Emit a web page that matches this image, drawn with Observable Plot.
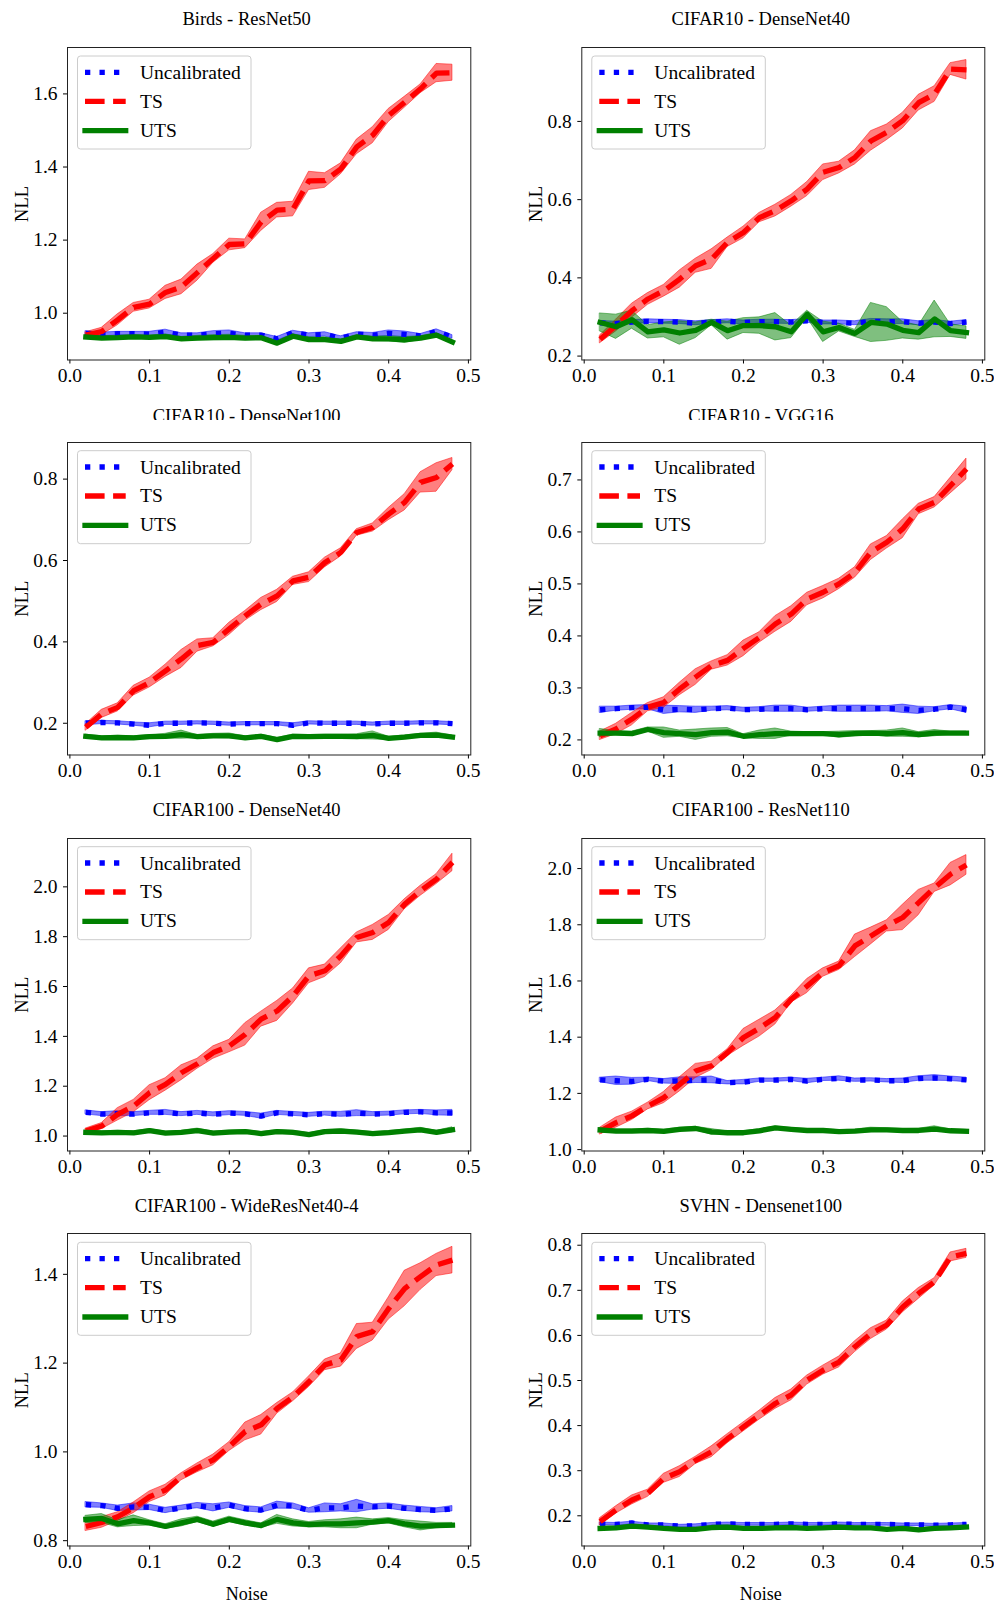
<!DOCTYPE html>
<html><head><meta charset="utf-8">
<script src="https://cdn.jsdelivr.net/npm/d3@7"></script>
<script src="https://cdn.jsdelivr.net/npm/@observablehq/plot@0.6"></script>
<style>
html,body{margin:0;padding:0;background:#fff;}
#root{position:relative;width:994px;height:1606px;overflow:hidden;font-family:"Liberation Serif",serif;}
#overlay{position:absolute;left:0;top:0;pointer-events:none;}
</style></head><body><div id="root"></div>
<script>
// ---------------- data ----------------
const noise = [0.02,0.04,0.06,0.08,0.10,0.12,0.14,0.16,0.18,0.20,0.22,0.24,0.26,0.28,0.30,0.32,0.34,0.36,0.38,0.40,0.42,0.44,0.46,0.48];
const xTicks = [0.0,0.1,0.2,0.3,0.4,0.5];
const titles = ["Birds - ResNet50","CIFAR10 - DenseNet40","CIFAR10 - DenseNet100","CIFAR10 - VGG16","CIFAR100 - DenseNet40","CIFAR100 - ResNet110","CIFAR100 - WideResNet40-4","SVHN - Densenet100"];
const methodLabels = ["Uncalibrated","TS","UTS"];
const yLabel = "NLL";
const xLabel = "Noise";

// Birds - ResNet50
const birdsUncal    = [0.945,0.942,0.944,0.944,0.943,0.948,0.940,0.940,0.944,0.945,0.940,0.940,0.930,0.947,0.940,0.942,0.932,0.943,0.940,0.945,0.942,0.938,0.950,0.935];
const birdsUncalStd = [0.006,0.005,0.005,0.005,0.006,0.007,0.005,0.005,0.007,0.008,0.005,0.005,0.005,0.005,0.005,0.006,0.005,0.005,0.006,0.008,0.008,0.005,0.006,0.005];
const birdsTS       = [0.940,0.950,0.982,1.016,1.025,1.057,1.072,1.111,1.150,1.188,1.190,1.250,1.282,1.285,1.362,1.363,1.395,1.455,1.487,1.541,1.577,1.614,1.657,1.658];
const birdsTSStd    = [0.008,0.010,0.015,0.012,0.012,0.018,0.020,0.022,0.012,0.016,0.012,0.025,0.020,0.020,0.025,0.020,0.015,0.020,0.022,0.018,0.015,0.012,0.025,0.022];
const birdsUTS      = [0.935,0.932,0.933,0.935,0.934,0.936,0.930,0.932,0.933,0.934,0.932,0.933,0.918,0.937,0.928,0.928,0.923,0.935,0.930,0.930,0.927,0.932,0.940,0.921];
const birdsUTSStd   = [0.005,0.005,0.005,0.005,0.005,0.006,0.005,0.006,0.007,0.007,0.006,0.005,0.005,0.005,0.006,0.006,0.005,0.005,0.006,0.007,0.008,0.005,0.005,0.005];

// CIFAR10 - DenseNet40
const c10d40Uncal    = [0.285,0.283,0.287,0.289,0.288,0.287,0.284,0.287,0.289,0.286,0.288,0.288,0.287,0.290,0.286,0.286,0.284,0.289,0.288,0.288,0.284,0.287,0.283,0.287];
const c10d40UncalStd = [0.005,0.005,0.005,0.005,0.005,0.005,0.005,0.005,0.005,0.005,0.005,0.005,0.005,0.005,0.005,0.005,0.005,0.006,0.006,0.006,0.005,0.005,0.005,0.005];
const c10d40TS       = [0.243,0.278,0.316,0.346,0.367,0.397,0.431,0.448,0.491,0.516,0.554,0.572,0.597,0.627,0.670,0.682,0.708,0.750,0.772,0.802,0.848,0.870,0.934,0.932];
const c10d40TSStd    = [0.010,0.015,0.018,0.015,0.015,0.022,0.018,0.025,0.012,0.015,0.012,0.015,0.015,0.018,0.020,0.015,0.018,0.025,0.020,0.020,0.020,0.020,0.015,0.025];
const c10d40UTS      = [0.286,0.275,0.293,0.262,0.267,0.259,0.266,0.286,0.265,0.278,0.278,0.275,0.262,0.307,0.262,0.273,0.258,0.286,0.282,0.266,0.260,0.295,0.265,0.260];
const c10d40UTSStd   = [0.023,0.031,0.023,0.017,0.019,0.030,0.020,0.007,0.023,0.019,0.021,0.035,0.016,0.009,0.026,0.010,0.009,0.050,0.043,0.021,0.018,0.047,0.016,0.016];

// CIFAR10 - DenseNet100
const c10d100Uncal    = [0.200,0.202,0.201,0.198,0.195,0.200,0.200,0.201,0.200,0.198,0.199,0.199,0.199,0.195,0.201,0.200,0.200,0.200,0.198,0.200,0.200,0.201,0.201,0.199];
const c10d100UncalStd = [0.005,0.004,0.004,0.004,0.005,0.004,0.004,0.004,0.004,0.004,0.004,0.004,0.004,0.005,0.004,0.004,0.004,0.004,0.004,0.004,0.004,0.004,0.004,0.004];
const c10d100TS       = [0.190,0.223,0.239,0.280,0.300,0.329,0.358,0.391,0.399,0.432,0.464,0.493,0.513,0.550,0.559,0.595,0.620,0.669,0.681,0.714,0.743,0.792,0.804,0.837];
const c10d100TSStd    = [0.008,0.010,0.010,0.012,0.012,0.015,0.022,0.015,0.010,0.015,0.012,0.015,0.015,0.010,0.012,0.012,0.010,0.008,0.010,0.015,0.020,0.025,0.035,0.015];
const c10d100UTS      = [0.168,0.164,0.165,0.164,0.167,0.168,0.172,0.167,0.169,0.169,0.164,0.168,0.160,0.168,0.167,0.168,0.168,0.167,0.170,0.163,0.166,0.170,0.171,0.166];
const c10d100UTSStd   = [0.004,0.004,0.004,0.004,0.004,0.006,0.010,0.004,0.005,0.006,0.004,0.004,0.004,0.004,0.004,0.004,0.004,0.006,0.010,0.004,0.004,0.004,0.006,0.004];

// CIFAR10 - VGG16
const c10vggUncal    = [0.258,0.260,0.262,0.263,0.258,0.259,0.258,0.260,0.261,0.258,0.259,0.260,0.260,0.258,0.260,0.260,0.260,0.260,0.260,0.260,0.257,0.259,0.263,0.258];
const c10vggUncalStd = [0.006,0.004,0.004,0.004,0.008,0.006,0.006,0.004,0.004,0.004,0.004,0.006,0.006,0.004,0.004,0.006,0.006,0.006,0.005,0.008,0.007,0.004,0.004,0.006];
const c10vggTS       = [0.208,0.221,0.240,0.263,0.272,0.298,0.321,0.343,0.353,0.376,0.397,0.423,0.442,0.471,0.484,0.500,0.522,0.561,0.580,0.606,0.644,0.657,0.689,0.721];
const c10vggTSStd    = [0.008,0.010,0.012,0.008,0.010,0.012,0.015,0.008,0.010,0.015,0.010,0.015,0.015,0.012,0.012,0.010,0.010,0.015,0.012,0.018,0.010,0.010,0.015,0.020];
const c10vggUTS      = [0.213,0.213,0.212,0.220,0.214,0.212,0.210,0.214,0.215,0.207,0.210,0.212,0.212,0.212,0.212,0.210,0.212,0.213,0.212,0.214,0.210,0.213,0.213,0.213];
const c10vggUTSStd   = [0.008,0.004,0.004,0.004,0.010,0.006,0.010,0.008,0.008,0.004,0.008,0.010,0.004,0.003,0.003,0.006,0.005,0.004,0.006,0.008,0.005,0.006,0.003,0.003];

// CIFAR100 - DenseNet40
const c100d40Uncal    = [1.095,1.088,1.090,1.088,1.093,1.095,1.088,1.093,1.087,1.092,1.089,1.080,1.093,1.089,1.085,1.090,1.087,1.092,1.088,1.090,1.095,1.097,1.093,1.093];
const c100d40UncalStd = [0.008,0.008,0.010,0.008,0.008,0.010,0.008,0.008,0.008,0.008,0.008,0.010,0.008,0.008,0.008,0.008,0.010,0.012,0.008,0.008,0.008,0.008,0.010,0.012];
const c100d40TS       = [1.020,1.040,1.087,1.120,1.174,1.207,1.254,1.290,1.335,1.361,1.408,1.469,1.502,1.562,1.643,1.663,1.723,1.797,1.817,1.857,1.930,1.984,2.031,2.098];
const c100d40TSStd    = [0.010,0.012,0.025,0.025,0.030,0.025,0.030,0.020,0.025,0.025,0.045,0.030,0.040,0.030,0.030,0.025,0.030,0.020,0.030,0.030,0.020,0.020,0.020,0.035];
const c100d40UTS      = [1.015,1.013,1.015,1.013,1.022,1.012,1.015,1.022,1.012,1.016,1.018,1.010,1.018,1.015,1.006,1.018,1.020,1.016,1.010,1.014,1.020,1.025,1.015,1.025];
const c100d40UTSStd   = [0.006,0.006,0.006,0.006,0.006,0.006,0.006,0.008,0.006,0.006,0.006,0.006,0.006,0.006,0.006,0.006,0.008,0.006,0.006,0.006,0.006,0.008,0.006,0.010];

// CIFAR100 - ResNet110
const c100r110Uncal    = [1.248,1.245,1.243,1.250,1.243,1.245,1.247,1.248,1.238,1.240,1.247,1.247,1.250,1.244,1.250,1.253,1.247,1.248,1.245,1.245,1.253,1.255,1.252,1.248];
const c100r110UncalStd = [0.008,0.015,0.012,0.006,0.008,0.012,0.010,0.012,0.006,0.008,0.006,0.006,0.006,0.008,0.006,0.008,0.006,0.006,0.006,0.008,0.008,0.010,0.008,0.008];
const c100r110TS       = [1.066,1.096,1.120,1.155,1.185,1.232,1.280,1.298,1.345,1.399,1.432,1.470,1.535,1.582,1.630,1.654,1.725,1.760,1.796,1.826,1.879,1.932,1.980,2.013];
const c100r110TSStd    = [0.012,0.018,0.015,0.012,0.020,0.025,0.025,0.015,0.012,0.030,0.030,0.025,0.012,0.025,0.015,0.015,0.040,0.030,0.020,0.045,0.045,0.015,0.040,0.035];
const c100r110UTS      = [1.070,1.066,1.066,1.068,1.065,1.072,1.075,1.063,1.060,1.060,1.067,1.077,1.072,1.068,1.068,1.064,1.066,1.070,1.070,1.068,1.068,1.073,1.067,1.065];
const c100r110UTSStd   = [0.006,0.006,0.006,0.006,0.006,0.006,0.006,0.010,0.005,0.005,0.006,0.005,0.005,0.005,0.005,0.005,0.005,0.008,0.006,0.005,0.006,0.010,0.005,0.005];

// CIFAR100 - WideResNet40-4
const c100wrnUncal    = [0.881,0.879,0.873,0.876,0.875,0.868,0.874,0.879,0.874,0.880,0.872,0.869,0.880,0.878,0.868,0.874,0.874,0.878,0.876,0.878,0.873,0.870,0.868,0.872];
const c100wrnUncalStd = [0.006,0.005,0.006,0.008,0.006,0.006,0.005,0.006,0.008,0.006,0.006,0.006,0.008,0.006,0.005,0.010,0.008,0.014,0.006,0.006,0.006,0.006,0.005,0.006];
const c100wrnTS       = [0.832,0.841,0.854,0.874,0.899,0.914,0.944,0.964,0.982,1.012,1.046,1.061,1.098,1.124,1.158,1.196,1.207,1.260,1.271,1.323,1.368,1.395,1.421,1.432];
const c100wrnTSStd    = [0.010,0.012,0.010,0.012,0.012,0.012,0.008,0.010,0.012,0.010,0.020,0.022,0.012,0.010,0.012,0.012,0.015,0.028,0.020,0.025,0.040,0.030,0.025,0.030];
const c100wrnUTS      = [0.848,0.850,0.838,0.845,0.840,0.832,0.840,0.848,0.837,0.848,0.840,0.834,0.848,0.840,0.836,0.838,0.838,0.840,0.842,0.845,0.838,0.833,0.834,0.835];
const c100wrnUTSStd   = [0.008,0.010,0.008,0.012,0.006,0.005,0.008,0.006,0.006,0.006,0.006,0.005,0.010,0.008,0.006,0.008,0.010,0.012,0.006,0.006,0.008,0.010,0.006,0.005];

// SVHN - Densenet100
const svhnUncal    = [0.182,0.181,0.184,0.180,0.180,0.177,0.178,0.181,0.182,0.181,0.181,0.181,0.182,0.181,0.181,0.182,0.181,0.181,0.181,0.180,0.180,0.179,0.180,0.181];
const svhnUncalStd = [0.003,0.003,0.003,0.003,0.003,0.003,0.003,0.003,0.003,0.003,0.003,0.003,0.003,0.003,0.003,0.003,0.003,0.003,0.003,0.003,0.003,0.003,0.003,0.003];
const svhnTS       = [0.187,0.213,0.235,0.250,0.283,0.298,0.323,0.342,0.371,0.397,0.423,0.449,0.468,0.501,0.523,0.541,0.575,0.604,0.623,0.663,0.693,0.719,0.774,0.782];
const svhnTSStd    = [0.008,0.008,0.010,0.008,0.010,0.012,0.008,0.012,0.010,0.010,0.010,0.012,0.012,0.010,0.010,0.012,0.012,0.012,0.010,0.012,0.012,0.008,0.010,0.010];
const svhnUTS      = [0.172,0.173,0.177,0.175,0.172,0.170,0.170,0.174,0.175,0.172,0.172,0.173,0.174,0.172,0.173,0.175,0.173,0.173,0.170,0.172,0.169,0.172,0.173,0.175];
const svhnUTSStd   = [0.003,0.003,0.003,0.003,0.003,0.003,0.003,0.003,0.003,0.003,0.003,0.003,0.003,0.003,0.003,0.003,0.003,0.003,0.003,0.003,0.003,0.003,0.003,0.003];

// y axis domains and tick values per panel
const yDomains = [[0.872,1.727],[0.19,0.989],[0.122,0.89],[0.171,0.772],[0.94,2.194],[0.995,2.107],[0.788,1.492],[0.133,0.826]];
const yTicks = [
  [1.0,1.2,1.4,1.6],
  [0.2,0.4,0.6,0.8],
  [0.2,0.4,0.6,0.8],
  [0.2,0.3,0.4,0.5,0.6,0.7],
  [1.0,1.2,1.4,1.6,1.8,2.0],
  [1.0,1.2,1.4,1.6,1.8,2.0],
  [0.8,1.0,1.2,1.4],
  [0.2,0.3,0.4,0.5,0.6,0.7,0.8]
];

const seriesByPanel = [
  [birdsUncal,birdsUncalStd,birdsTS,birdsTSStd,birdsUTS,birdsUTSStd],
  [c10d40Uncal,c10d40UncalStd,c10d40TS,c10d40TSStd,c10d40UTS,c10d40UTSStd],
  [c10d100Uncal,c10d100UncalStd,c10d100TS,c10d100TSStd,c10d100UTS,c10d100UTSStd],
  [c10vggUncal,c10vggUncalStd,c10vggTS,c10vggTSStd,c10vggUTS,c10vggUTSStd],
  [c100d40Uncal,c100d40UncalStd,c100d40TS,c100d40TSStd,c100d40UTS,c100d40UTSStd],
  [c100r110Uncal,c100r110UncalStd,c100r110TS,c100r110TSStd,c100r110UTS,c100r110UTSStd],
  [c100wrnUncal,c100wrnUncalStd,c100wrnTS,c100wrnTSStd,c100wrnUTS,c100wrnUTSStd],
  [svhnUncal,svhnUncalStd,svhnTS,svhnTSStd,svhnUTS,svhnUTSStd]
];

// ---------------- styles / layout ----------------
const styles = [
  {color:"#0000ff", dash:"5.3,9.2", cap:"butt"},
  {color:"#ff0000", dash:"19.6,8.5", cap:"butt"},
  {color:"#008000", dash:null, cap:"square"}
];
const LW = 5.3;
const colW = 497;
const colFrameLeft = [67, 581.3];
const colFrameRight = [470.3, 984.3];
const rowFrameTop = [47, 441.7, 837.7, 1233.3];
const frameH = 312.5;
const titleBase = [25, 422.3, 816, 1211.7];
const FONT = "'Liberation Serif', 'Times New Roman', serif";

const root = document.getElementById("root");

titles.forEach((title, i) => {
  const row = Math.floor(i / 2), col = i % 2;
  const fl = colFrameLeft[col], fr = colFrameRight[col], ft = rowFrameTop[row];
  const s = seriesByPanel[i];
  const sets = [0,1,2].map(m => noise.map((x, k) => ({x, y: s[2*m][k], lo: s[2*m][k] - s[2*m+1][k], hi: s[2*m][k] + s[2*m+1][k]})));
  const marks = [];
  sets.forEach((d, m) => {
    marks.push(Plot.areaY(d, {x: "x", y1: "lo", y2: "hi", fill: styles[m].color, fillOpacity: 0.5, stroke: styles[m].color, strokeOpacity: 0.5, strokeWidth: 1}));
  });
  sets.forEach((d, m) => {
    const o = {x: "x", y: "y", stroke: styles[m].color, strokeWidth: LW, strokeLinecap: styles[m].cap, strokeLinejoin: "round"};
    if (styles[m].dash) o.strokeDasharray = styles[m].dash;
    marks.push(Plot.lineY(d, o));
  });
  marks.push(Plot.frame({stroke: "#222", strokeWidth: 1}));
  const chart = Plot.plot({
    width: colW,
    height: 47 + frameH + 35.5,
    marginTop: 47,
    marginBottom: 35.5,
    marginLeft: fl - col * colW,
    marginRight: colW - (fr - col * colW),
    x: {domain: [-0.003, 0.503], ticks: xTicks, tickFormat: d3.format(".1f"), tickSize: 4, tickPadding: 4, label: null},
    y: {domain: yDomains[i], ticks: yTicks[i], tickFormat: d3.format(".1f"), tickSize: 4, tickPadding: 6, label: null},
    style: {fontFamily: FONT, fontSize: "19.5px", background: "transparent", color: "#000", overflow: "visible"},
    marks
  });
  chart.style.position = "absolute";
  chart.style.left = (col * colW) + "px";
  chart.style.top = (ft - 47) + "px";
  chart.style.maxWidth = "none";
  root.appendChild(chart);
});

// ---------------- overlay: titles, axis labels, legends ----------------
const ov = d3.select(root).append("svg").attr("id", "overlay").attr("width", 994).attr("height", 1606)
  .style("font-family", FONT);
ov.append("defs").append("clipPath").attr("id", "row2clip")
  .append("rect").attr("x", 0).attr("y", 395).attr("width", 994).attr("height", 25);

titles.forEach((title, i) => {
  const row = Math.floor(i / 2), col = i % 2;
  const fl = colFrameLeft[col], fr = colFrameRight[col], ft = rowFrameTop[row];
  const cx = (fl + fr) / 2 - 22;
  const t = ov.append("text").attr("x", cx).attr("y", titleBase[row]).attr("text-anchor", "middle")
    .attr("font-size", 18.5).attr("fill", "#000").text(title);
  if (row === 1) t.attr("clip-path", "url(#row2clip)");

  // y label
  ov.append("text").attr("transform", `translate(${fl - 45.5 + 6.1},${ft + 157}) rotate(-90)`)
    .attr("text-anchor", "middle").attr("font-size", 18.5).attr("fill", "#000").text(yLabel);

  // x label for the bottom row
  if (row === 3) {
    ov.append("text").attr("x", cx).attr("y", 1600).attr("text-anchor", "middle")
      .attr("font-size", 18).attr("fill", "#000").text(xLabel);
  }

  // legend
  const g = ov.append("g").attr("transform", `translate(${fl},${ft})`);
  g.append("rect").attr("x", 10.5).attr("y", 9).attr("width", 173.5).attr("height", 93).attr("rx", 3)
    .attr("fill", "#fff").attr("fill-opacity", 0.8).attr("stroke", "#cccccc").attr("stroke-width", 1);
  const rowsY = [25.3, 54.3, 83.7];
  const baseY = [32, 60.7, 89.7];
  methodLabels.forEach((lab, m) => {
    const ln = g.append("line").attr("x1", 18).attr("x2", 58.7).attr("y1", rowsY[m]).attr("y2", rowsY[m])
      .attr("stroke", styles[m].color).attr("stroke-width", LW).attr("stroke-linecap", styles[m].cap);
    if (styles[m].dash) ln.attr("stroke-dasharray", styles[m].dash);
    g.append("text").attr("x", 73).attr("y", baseY[m]).attr("font-size", 19.5).attr("fill", "#000").text(lab);
  });
});
</script>
</body></html>
